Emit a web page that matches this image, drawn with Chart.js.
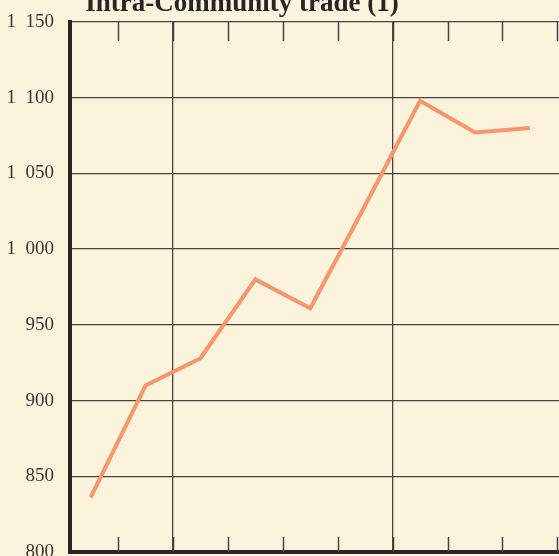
<!DOCTYPE html>
<html>
<head>
<meta charset="utf-8">
<script src="https://cdn.jsdelivr.net/npm/chart.js@4/dist/chart.umd.min.js"></script>
<style>
  html, body { margin: 0; padding: 0; overflow: hidden; background: #fcf3dc; }
  canvas { display: block; }
</style>
</head>
<body>
<canvas id="grafico" width="559" height="572"></canvas>
<script>
const titulo = 'Intra-Community trade (1)';
const periodos = [0, 1, 2, 3, 4, 5, 6, 7, 8];
const valores = [836, 910, 928, 980, 961, 1029, 1098, 1077, 1080];
const ticksY = [800, 850, 900, 950, 1000, 1050, 1100, 1150];
// periods after which the full vertical rule is drawn
const quebras = [1, 5];

const corGrade = '#4a4242';
const corEixo = '#2b2525';

// limites entre periodos (meio caminho entre pontos)
const limites = periodos.map(p => p + 0.5);

function formatarY(v) {
    if (v >= 1000) {
        return Math.floor(v / 1000) + '  ' + String(v % 1000).padStart(3, '0');
    }
    return String(v);
}

// marcas curtas em cima e em baixo + titulo cortado
const marcasPapel = {
    id: 'marcasPapel',
    afterDraw(chart) {
        const { ctx, chartArea, scales } = chart;
        const x = scales.x;
        ctx.save();
        ctx.strokeStyle = corGrade;
        ctx.lineWidth = 1.5;
        limites.forEach(v => {
            const p = Math.round(x.getPixelForValue(v)) + 0.5;
            if (p > chartArea.right) return;
            ctx.beginPath();
            ctx.moveTo(p, chartArea.top);
            ctx.lineTo(p, chartArea.top + 19);
            ctx.moveTo(p, chartArea.bottom);
            ctx.lineTo(p, chartArea.bottom - 15);
            ctx.stroke();
        });
        ctx.fillStyle = '#2a2424';
        ctx.font = 'bold 27px "Liberation Serif", serif';
        ctx.textAlign = 'center';
        ctx.textBaseline = 'alphabetic';
        ctx.fillText(titulo, 242, 11);
        ctx.restore();
    }
};

const ctx = document.getElementById('grafico').getContext('2d');
const grafico = new Chart(ctx, {
    type: 'line',
    data: {
        datasets: [{
            label: titulo,
            data: periodos.map((p, i) => ({ x: p, y: valores[i] })),
            borderColor: '#f7956c',
            borderWidth: 4,
            pointRadius: 0,
            tension: 0,
            borderJoinStyle: 'miter',
            fill: false
        }]
    },
    options: {
        responsive: false,
        animation: false,
        layout: {
            padding: { top: 22, bottom: 20, left: 0, right: 0 }
        },
        scales: {
            x: {
                type: 'linear',
                min: -0.377,
                max: 8.53,
                afterBuildTicks: scale => {
                    scale.ticks = limites.map(v => ({ value: v }));
                },
                afterFit: scale => {
                    scale.height = 0;
                    scale.paddingLeft = 0;
                    scale.paddingRight = 0;
                },
                ticks: { display: false },
                grid: {
                    drawTicks: false,
                    lineWidth: 1.3,
                    color: c => (c.tick && quebras.includes(c.tick.value - 0.5)) ? corGrade : 'rgba(0,0,0,0)'
                },
                border: { display: true, width: 4, color: corEixo }
            },
            y: {
                type: 'linear',
                min: 800,
                max: 1150,
                afterBuildTicks: scale => {
                    scale.ticks = ticksY.map(v => ({ value: v }));
                },
                afterFit: scale => {
                    scale.width = 70;
                    scale.paddingTop = 0;
                    scale.paddingBottom = 0;
                },
                ticks: {
                    padding: 16,
                    color: '#3b3434',
                    font: { family: '"Liberation Serif", serif', size: 19 },
                    callback: v => formatarY(v)
                },
                grid: {
                    drawTicks: false,
                    lineWidth: 1.3,
                    color: corGrade
                },
                border: { display: true, width: 4, color: corEixo }
            }
        },
        plugins: {
            legend: { display: false },
            title: { display: false },
            tooltip: { enabled: false }
        }
    },
    plugins: [marcasPapel]
});
</script>
</body>
</html>
